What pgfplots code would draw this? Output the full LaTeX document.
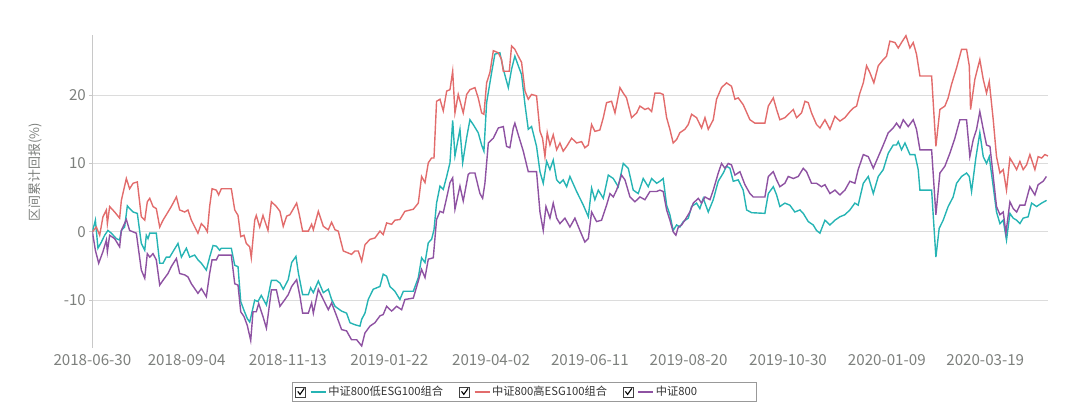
\documentclass[border=0pt]{standalone}
\usepackage{fontspec}
\setmainfont{Noto Sans CJK SC}
\usepackage{pgfplots}
\pgfplotsset{compat=1.18}
\definecolor{lowesg}{RGB}{38,180,180}
\definecolor{highesg}{RGB}{226,108,108}
\definecolor{csi}{RGB}{142,82,162}
\definecolor{tickgray}{RGB}{125,128,125}
\definecolor{gridgray}{RGB}{220,220,220}
\definecolor{axisgray}{RGB}{200,200,200}

\begin{document}
\begin{tikzpicture}
\useasboundingbox (0,0) rectangle (1080bp,413bp);
\begin{axis}[
    at={(92.4bp,65bp)}, anchor=south west,
    width=955.6bp, height=313bp, scale only axis,
    xmin=0, xmax=670, ymin=-17, ymax=28.8,
    axis x line*=bottom, axis y line*=left,
    x axis line style={draw=none},
    y axis line style={draw=axisgray, line width=1bp},
    xtick={0,66.1,137,208.2,279.5,348.8,418,487.7,557,626},
    xticklabels={2018-06-30,2018-09-04,2018-11-13,2019-01-22,2019-04-02,2019-06-11,2019-08-20,2019-10-30,2020-01-09,2020-03-19},
    xtick style={draw=none},
    ytick={-10,0,10,20},
    ytick style={draw=axisgray, line width=1bp},
    major tick length=3bp, tick align=outside,
    ymajorgrids, grid style={gridgray, line width=1bp},
    xticklabel style={font=\fontsize{15.2}{17}\selectfont, text=tickgray},
    yticklabel style={font=\fontsize{15.2}{17}\selectfont, text=tickgray,
        /pgf/number format/assume math mode=true},
    ylabel={区间累计回报(\%)},
    ylabel style={at={(axis description cs:-0.060,0.562)}, anchor=center,
        font=\fontsize{13}{15}\selectfont, text=tickgray},
    legend columns=4,
    legend style={at={(axis description cs:0.2089,-0.1086)}, anchor=north west,
        draw=gray!80, line width=0.8bp, fill=white,
        font=\fontsize{11.3}{13}\selectfont, text=black!80,
        inner xsep=3bp, inner ysep=2bp,
        /tikz/every even column/.append style={column sep=14bp}},
    legend image code/.code={
        \draw[black!75, solid, line width=0.6bp, fill=white] (0bp,-5bp) rectangle (10bp,5bp);
        \draw[black, solid, line width=1.1bp] (2bp,0.5bp) -- (4.3bp,-2.5bp) -- (8.5bp,3.5bp);
        \draw[solid, line width=1.3bp] (15bp,0bp) -- (30bp,0bp);
    },
]
\addplot[lowesg, line width=1.4bp] coordinates {
(0,0) (2.1,1.7) (3.9,-2.4) (6.3,-1.5) (8.6,-0.5) (10.9,0.2) (13.3,-0.2) (16.8,-1.0) (19.1,-1.2) (20.3,0.2) (22.6,0.7) (24.5,3.8) (26.1,3.4) (28.5,2.9) (31.5,2.7) (34.3,-1.7) (36.7,-2.7) (37.8,-0.5) (39.0,-1.0) (40.2,-0.2) (44.8,-0.2) (47.2,-4.6) (49.5,-4.6) (51.8,-3.7) (54.2,-3.7) (56.5,-2.9) (60.0,-1.7) (62.4,-3.7) (65.9,-2.4) (68.2,-3.7) (71.7,-3.4) (74.0,-4.1) (76.4,-4.6) (79.9,-5.6) (82.2,-3.7) (84.6,-2.0) (86.9,-2.1) (89.2,-2.7) (90.4,-2.4) (97.4,-2.4) (99.8,-4.9) (102.1,-5.1) (104.0,-10.2) (106.3,-11.5) (108.6,-12.7) (110.3,-13.2) (111.4,-12.2) (113.8,-10.0) (116.1,-10.2) (118.4,-9.3) (122.0,-10.7) (125.5,-7.1) (129.0,-7.1) (131.5,-7.5) (133.8,-8.4) (137.3,-7.0) (139.7,-4.5) (142.7,-3.6) (144.4,-6.0) (147.4,-9.2) (151.4,-9.2) (153.0,-8.2) (154.9,-8.9) (158.4,-7.2) (161.9,-8.9) (165.4,-8.4) (167.7,-9.9) (170.1,-10.9) (174.7,-11.6) (178.2,-11.9) (180.6,-13.3) (184.1,-13.6) (187.6,-13.8) (188.8,-12.8) (191.1,-11.9) (193.4,-9.9) (196.9,-8.4) (201.6,-8.0) (203.9,-6.2) (206.3,-6.5) (208.6,-8.0) (212.1,-8.7) (215.6,-9.9) (218.0,-8.7) (225.0,-8.7) (228.5,-6.7) (230.8,-3.8) (233.2,-4.5) (235.5,-1.6) (237.8,-1.1) (239.5,0.3) (241.3,4.2) (243.7,6.7) (246.0,6.2) (248.4,8.1) (250.7,10.1) (252.6,16.3) (254.2,11.1) (257.7,15.0) (259.6,10.1) (262.4,13.8) (264.7,16.4) (267.0,15.7) (270.5,14.5) (272.9,12.7) (274.5,11.8) (276.4,18.9) (279.9,23.3) (282.2,26.0) (285.7,26.2) (288.1,23.8) (291.6,21.1) (293.9,23.8) (296.2,25.7) (298.6,24.3) (300.9,23.0) (303.3,18.6) (305.6,15.0) (307.9,15.4) (311.4,12.5) (313.8,8.8) (316.1,7.1) (318.5,10.3) (320.8,9.1) (323.1,10.5) (325.5,7.6) (327.8,7.1) (330.1,7.6) (332.5,6.6) (334.8,8.1) (339.5,5.9) (344.2,3.9) (347.7,2.2) (350.0,6.4) (352.3,4.7) (354.7,6.1) (358.2,4.9) (361.7,8.3) (365.2,7.8) (368.7,6.6) (372.2,10.0) (375.7,9.3) (379.2,6.1) (382.7,5.6) (386.2,7.8) (389.7,6.6) (392.1,7.8) (395.6,7.1) (397.9,7.4) (400.2,7.8) (402.6,3.9) (404.9,2.5) (407.2,0.2) (409.6,1.0) (411.9,0.7) (414.3,1.5) (417.8,2.0) (420.1,3.7) (423.6,4.2) (425.9,3.4) (428.3,4.9) (431.8,2.9) (435.3,4.7) (438.8,7.4) (442.3,8.6) (444.6,9.6) (447.0,9.3) (449.3,7.4) (452.8,7.6) (456.3,6.1) (458.7,3.2) (462.2,2.8) (471.5,2.7) (473.9,5.6) (477.4,6.6) (479.7,5.4) (482.0,3.7) (485.5,4.2) (489.0,3.9) (492.5,2.9) (496.1,3.2) (498.4,2.7) (501.9,1.5) (505.4,1.0) (507.7,0.2) (510.1,-0.2) (513.6,1.7) (517.1,1.0) (520.6,1.7) (524.1,2.2) (527.6,2.5) (531.1,3.2) (534.6,4.2) (536.9,3.9) (540.5,7.1) (544.0,8.1) (547.5,5.6) (551.0,8.1) (554.5,9.1) (558.0,11.5) (561.5,12.7) (563.8,12.7) (565.0,13.2) (567.3,12.0) (569.7,13.0) (573.2,11.3) (576.7,11.3) (579.0,9.1) (580.2,6.1) (588.4,6.1) (591.4,-3.7) (593.7,0.5) (596.5,1.7) (600.0,3.7) (603.5,5.1) (605.9,7.1) (609.4,8.1) (612.9,8.6) (614.8,8.1) (616.4,5.9) (619.4,10.8) (622.2,14.5) (624.6,11.0) (626.9,10.0) (628.8,11.0) (631.6,6.6) (633.9,2.9) (636.3,1.2) (638.6,1.7) (640.9,-1.2) (643.3,2.7) (645.6,2.0) (648.0,1.7) (650.3,1.2) (652.6,2.0) (656.1,2.2) (658.5,4.2) (662.0,3.7) (665.5,4.2) (669.0,4.6)
};
\addlegendentry{中证800低ESG100组合}
\addplot[highesg, line width=1.4bp] coordinates {
(0,0) (2.8,0.7) (5.1,-0.5) (7.4,2.2) (9.8,3.2) (10.5,1.2) (12.1,3.7) (15.6,2.9) (19.1,2.0) (20.3,4.6) (23.8,7.8) (26.1,6.3) (28.5,7.1) (31.5,7.3) (34.3,2.2) (36.7,1.7) (38.5,4.4) (40.2,4.9) (42.5,3.7) (44.8,3.4) (47.2,0.7) (49.5,1.7) (53.0,2.9) (55.3,3.7) (58.9,5.1) (61.2,3.2) (64.7,2.9) (67.0,3.2) (69.4,1.7) (74.0,-0.2) (76.4,1.2) (78.7,0.7) (80.6,0) (82.2,3.7) (83.9,6.3) (86.9,6.1) (88.5,5.4) (90.4,6.3) (97.4,6.3) (99.8,3.2) (102.1,2.4) (104.0,-0.7) (106.3,-0.5) (107.9,-1.7) (110.3,-2.2) (111.4,-3.8) (113.8,1.7) (114.9,2.4) (117.3,0.7) (119.6,2.4) (123.1,0.2) (125.5,4.4) (129.0,3.7) (131.5,3.0) (133.8,0.8) (136.2,2.3) (138.5,2.5) (143.2,4.2) (145.1,2.5) (147.4,0.1) (151.4,0.1) (153.7,1.1) (154.9,0.3) (158.4,3.0) (161.9,0.8) (165.4,0.3) (167.7,1.4) (170.1,0.3) (172.4,0.1) (175.9,-2.8) (179.4,-3.1) (181.7,-3.3) (184.1,-2.8) (186.4,-2.8) (188.8,-4.3) (191.1,-1.9) (194.6,-1.1) (198.1,-0.9) (201.6,0.1) (203.9,-0.4) (206.3,1.3) (209.8,1.1) (212.1,1.7) (215.6,1.8) (219.1,3.0) (225.0,3.3) (228.5,4.2) (230.8,8.1) (233.2,7.2) (235.5,10.1) (237.8,10.8) (239.5,10.8) (241.3,19.1) (243.7,19.4) (246.0,17.7) (248.4,20.6) (250.7,20.8) (252.6,23.5) (254.2,17.4) (256.5,20.1) (260.0,17.4) (262.4,20.1) (264.7,20.8) (268.2,21.1) (270.5,19.6) (272.9,17.4) (274.5,17.2) (276.4,21.8) (278.7,23.3) (281.1,26.5) (284.6,26.2) (286.9,25.2) (288.1,23.5) (292.3,23.5) (293.9,27.2) (296.2,26.7) (298.6,25.7) (300.9,24.8) (303.3,20.6) (305.6,19.4) (307.9,20.1) (311.4,19.9) (313.8,14.7) (315.6,13.7) (317.3,11.0) (318.9,14.5) (320.8,12.7) (323.1,14.2) (325.5,12.0) (327.8,13.0) (330.1,11.8) (332.5,12.5) (336.0,13.7) (339.5,13.0) (343.0,13.2) (345.3,12.3) (347.7,12.7) (350.0,15.7) (352.3,14.7) (355.8,14.9) (358.2,16.7) (360.5,18.9) (364.0,19.1) (366.4,17.4) (369.9,21.1) (372.2,20.3) (374.5,19.6) (378.0,16.7) (381.6,17.4) (383.9,18.4) (387.4,17.9) (389.7,18.1) (392.1,17.6) (394.4,20.3) (397.9,20.3) (400.2,20.1) (402.6,16.7) (404.9,15.0) (407.2,13.0) (409.6,13.5) (411.9,14.5) (415.4,15.0) (417.8,15.7) (420.1,17.2) (423.6,16.7) (427.1,15.2) (429.5,16.7) (431.8,15.0) (435.3,16.4) (437.6,19.4) (441.1,21.1) (444.6,21.8) (448.1,21.3) (450.5,19.4) (452.8,19.6) (456.3,18.6) (461.0,16.4) (464.5,15.9) (471.5,15.9) (473.9,18.4) (477.4,19.6) (479.7,17.9) (482.0,16.4) (485.5,16.7) (489.0,17.4) (491.4,17.9) (493.7,16.7) (497.2,17.4) (499.6,19.1) (501.9,18.9) (504.2,17.4) (507.7,15.7) (510.1,15.2) (513.6,16.4) (517.1,15.0) (520.6,16.9) (524.1,16.2) (527.6,16.7) (531.1,17.6) (533.4,18.1) (535.8,18.4) (538.1,20.3) (540.5,21.8) (542.8,24.3) (545.1,23.3) (547.9,21.8) (551.0,24.3) (554.5,25.2) (556.8,25.7) (559.1,27.9) (562.7,27.7) (565.0,26.9) (567.3,27.7) (570.4,28.7) (573.2,26.9) (575.5,27.7) (577.8,26.0) (580.2,22.8) (588.4,22.8) (591.4,12.5) (594.2,17.9) (597.7,18.4) (600.0,19.6) (602.4,21.6) (605.9,24.0) (609.4,26.7) (612.9,26.7) (614.8,24.3) (615.7,17.9) (618.7,22.3) (622.2,25.2) (624.6,22.3) (626.9,20.3) (628.8,22.0) (631.6,16.4) (633.9,11.0) (636.3,8.6) (638.6,9.1) (640.9,6.1) (643.3,10.8) (645.6,10.0) (648.0,9.1) (650.3,10.3) (652.6,9.1) (655.0,9.8) (657.3,11.3) (660.8,9.1) (663.1,11.0) (665.5,10.8) (667.8,11.3) (670,11.1)
};
\addlegendentry{中证800高ESG100组合}
\addplot[csi, line width=1.4bp] coordinates {
(0,0) (2.1,-2.7) (4.4,-4.6) (7.4,-2.9) (9.8,-1.2) (10.5,-2.9) (12.1,-0.5) (15.6,-1.0) (19.1,-2.2) (20.3,0.2) (23.8,1.8) (26.1,0.2) (30.8,-0.2) (34.3,-5.6) (36.7,-6.8) (38.5,-3.2) (40.2,-3.7) (42.5,-3.2) (44.8,-4.1) (47.2,-7.8) (49.5,-7.1) (53.0,-6.1) (55.3,-5.1) (58.9,-3.9) (61.2,-6.1) (64.7,-6.3) (67.0,-6.6) (69.4,-7.6) (74.0,-9.0) (76.4,-8.3) (79.9,-9.5) (82.2,-6.1) (83.9,-4.1) (86.9,-4.1) (88.5,-3.4) (97.4,-3.4) (99.8,-7.6) (102.1,-7.8) (104.0,-11.7) (106.3,-12.4) (108.6,-13.7) (111.0,-15.9) (112.6,-11.7) (114.9,-11.7) (116.6,-10.5) (119.6,-12.4) (122.0,-14.1) (125.5,-8.5) (129.0,-8.5) (131.5,-10.9) (135.0,-9.9) (137.3,-9.2) (139.7,-8.0) (143.2,-7.0) (145.5,-9.4) (147.4,-11.9) (151.4,-11.9) (153.7,-10.4) (154.9,-11.9) (158.4,-8.4) (161.9,-9.9) (165.4,-11.4) (167.7,-10.4) (171.2,-12.3) (174.7,-14.3) (178.2,-14.5) (181.7,-15.8) (185.3,-15.8) (188.8,-16.7) (191.1,-14.8) (194.6,-13.8) (198.1,-13.3) (201.6,-12.3) (203.9,-12.1) (206.3,-10.9) (209.8,-11.6) (213.3,-10.9) (216.8,-11.4) (219.1,-9.9) (225.0,-9.7) (228.5,-7.2) (230.8,-5.5) (233.2,-6.7) (235.5,-4.0) (239.0,-3.8) (241.3,1.8) (243.7,3.0) (246.0,2.8) (248.4,5.0) (250.7,7.2) (252.6,7.9) (254.2,3.3) (257.7,6.7) (260.0,4.5) (263.5,8.4) (264.7,8.6) (268.2,8.6) (271.7,5.6) (273.6,4.9) (275.2,7.1) (277.6,13.0) (281.1,13.7) (284.6,15.2) (288.1,15.4) (290.4,12.5) (292.7,12.3) (295.1,15.2) (296.2,15.9) (298.6,14.2) (302.1,11.8) (305.6,8.8) (311.4,8.8) (313.8,2.9) (316.1,0.2) (318.0,3.7) (320.8,2.0) (323.1,4.2) (325.5,2.0) (327.8,1.2) (331.3,2.0) (334.8,0.7) (338.3,2.0) (341.8,0.2) (345.3,-1.5) (347.7,-1.0) (350.0,2.9) (353.5,1.5) (357.0,1.7) (360.5,3.9) (362.9,5.6) (365.2,5.1) (367.5,6.1) (371.0,8.3) (373.4,7.6) (376.9,5.1) (380.4,4.4) (383.9,5.1) (387.4,4.7) (390.9,5.9) (395.6,5.9) (397.9,6.1) (400.2,5.9) (402.6,3.2) (404.9,1.7) (407.2,0) (409.1,-0.5) (410.8,0.7) (413.1,1.0) (415.4,1.7) (418.9,2.9) (421.3,4.2) (424.8,4.9) (427.1,4.2) (429.5,5.1) (433.0,4.7) (435.3,6.1) (438.8,8.6) (441.1,10.0) (443.5,9.3) (445.8,10.0) (448.1,9.8) (450.5,8.3) (454.0,8.8) (457.5,6.9) (461.0,5.6) (463.3,5.1) (471.5,5.1) (473.9,8.1) (477.4,8.8) (479.7,7.6) (482.0,6.6) (485.5,7.1) (487.9,8.1) (491.4,7.8) (494.9,8.1) (498.4,9.3) (500.7,8.8) (504.2,7.1) (507.7,7.1) (511.2,6.6) (513.6,6.9) (517.1,5.6) (520.6,6.1) (524.1,5.4) (527.6,6.1) (531.1,7.4) (534.6,7.1) (536.9,9.1) (540.5,11.3) (544.0,11.0) (547.5,9.3) (551.0,11.0) (554.5,12.7) (558.0,14.5) (561.5,15.2) (563.8,15.9) (566.2,15.2) (568.5,16.4) (572.0,15.4) (575.5,16.4) (577.8,15.0) (580.2,12.0) (588.4,12.0) (591.4,2.5) (594.2,8.6) (597.7,9.6) (601.2,11.5) (604.7,13.7) (608.2,16.4) (612.9,16.4) (615.2,11.0) (617.6,13.5) (619.9,15.0) (622.2,17.6) (624.6,15.0) (626.9,12.7) (629.3,12.5) (631.6,8.1) (633.9,3.7) (636.3,2.5) (638.6,2.9) (640.5,-0.2) (643.3,4.4) (645.6,3.4) (648.0,2.9) (650.3,3.9) (653.8,3.9) (657.3,6.6) (660.8,5.4) (663.1,6.9) (666.6,7.4) (668.9,8.1)
};
\addlegendentry{中证800}
\addlegendimage{empty legend}
\addlegendentry{\rule{36bp}{0pt}}
\end{axis}
\end{tikzpicture}
\end{document}
